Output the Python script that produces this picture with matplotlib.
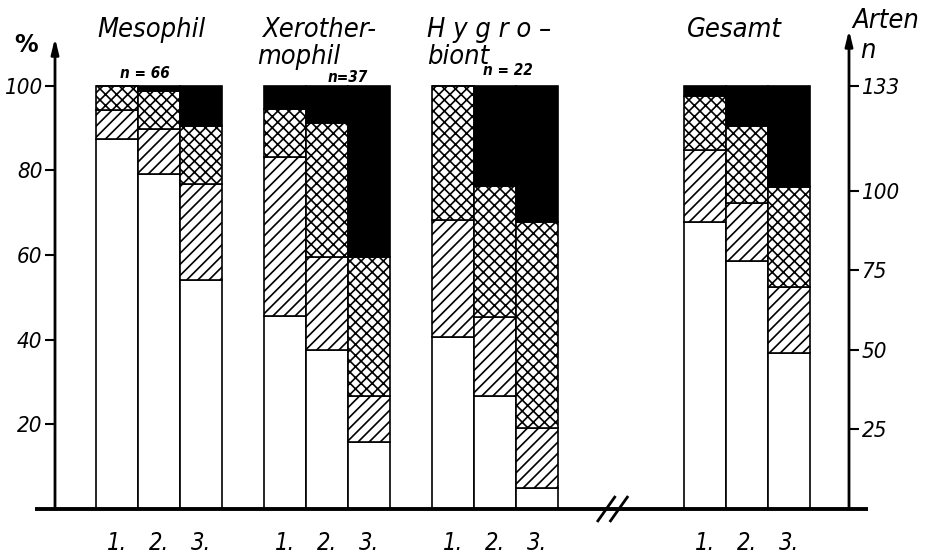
import numpy as np
import matplotlib
matplotlib.use("Agg")
from matplotlib import pyplot as plt

# data (percent of species per bar, bottom to top)
groups = ["Mesophil", "Xerothermophil", "Hygrobiont", "Gesamt"]
n_labels = ["n = 66", "n=37", "n = 22", ""]
bar_labels = ["1.", "2.", "3."]
white = [[87.5, 79.2, 54.0], [45.6, 37.6, 15.8], [40.7, 26.7, 5.0], [67.9, 58.7, 36.8]]
hatched = [[6.7, 10.6, 22.8], [37.5, 22.0, 10.9], [27.5, 18.6, 14.2], [17.0, 13.6, 15.6]]
crossed = [[5.8, 9.0, 13.6], [11.4, 31.6, 32.9], [31.8, 31.1, 48.7], [12.6, 18.1, 23.8]]
black = [[0.0, 1.2, 9.6], [5.5, 8.8, 40.4], [0.0, 23.6, 32.1], [2.5, 9.6, 23.8]]
pct_ticks = [20, 40, 60, 80, 100]
n_ticks = [25, 50, 75, 100, 133]
n_total = 133

group_start = [0, 4, 8, 14]

plt.rcParams["hatch.linewidth"] = 1.2
FONT = dict(family="DejaVu Sans", style="italic", stretch="condensed")

W, H = 927, 555
fig = plt.figure(figsize=(W / 100, H / 100), dpi=100)
ax = fig.add_axes([55 / W, 46 / H, 794 / W, 471 / H])
xmin, xmax = -1.48, 17.43
ymax = 111.3
ax.set_xlim(xmin, xmax)
ax.set_ylim(0, ymax)
for s in ax.spines.values():
    s.set_visible(False)

styles = [dict(facecolor="white", hatch=None),
          dict(facecolor="white", hatch="///"),
          dict(facecolor="white", hatch="xxx"),
          dict(facecolor="black", hatch=None)]

for g, x0 in enumerate(group_start):
    xs = np.arange(3) + x0
    bottom = np.zeros(3)
    for seg, st in zip([white[g], hatched[g], crossed[g], black[g]], styles):
        vals = np.array(seg)
        ax.bar(xs, vals, width=1.0, bottom=bottom, edgecolor="black",
               linewidth=1.2, **st)
        bottom += vals
    for x, lab in zip(xs, bar_labels):
        ax.text(x, -8.0, lab, ha="center", va="center", fontsize=17,
                clip_on=False, **FONT)

# left axis
ax.set_xticks([])
ax.set_yticks(pct_ticks)
ax.set_yticklabels([str(t) for t in pct_ticks], fontsize=16, **FONT)
ax.tick_params(axis="y", direction="out", length=7, width=1.5, pad=2)
ax.annotate("", xy=(xmin, ymax), xytext=(xmin, 0),
            arrowprops=dict(arrowstyle="-|>,head_length=0.9,head_width=0.22",
                            lw=2, color="black", shrinkA=0, shrinkB=0),
            annotation_clip=False)

# right axis in number of species
ax2 = ax.twinx()
ax2.set_ylim(0, ymax * n_total / 100)
for s in ax2.spines.values():
    s.set_visible(False)
ax2.set_yticks(n_ticks)
ax2.set_yticklabels([str(t) for t in n_ticks], fontsize=16, **FONT)
ax2.tick_params(axis="y", direction="out", length=7, width=1.5, pad=2)
ax.annotate("", xy=(xmax, 113.2), xytext=(xmax, 0),
            arrowprops=dict(arrowstyle="-|>,head_length=0.9,head_width=0.22",
                            lw=2, color="black", shrinkA=0, shrinkB=0),
            annotation_clip=False)

# baseline with axis break
ax.plot([-1.95, 17.88], [0, 0], color="black", lw=2.8, clip_on=False,
        solid_capstyle="butt", zorder=5)
ax.plot([11.45, 11.85], [-2.8, 2.8], color="black", lw=2, clip_on=False, zorder=6)
ax.plot([11.75, 12.15], [-2.8, 2.8], color="black", lw=2, clip_on=False, zorder=6)


def ftext(x, y, s, **kw):
    fig.text(x / W, 1 - y / H, s, **kw)


TITLE = dict(fontsize=19.5, va="baseline", ha="left", **FONT)
ftext(97, 37, "Mesophil", **TITLE)
ftext(262, 37, "Xerother-", **TITLE)
ftext(257, 64, "mophil", **TITLE)
ftext(427, 37, "H y g r o –", **TITLE)
ftext(427, 64, "biont", **TITLE)
ftext(687, 37, "Gesamt", **TITLE)
ftext(852, 28, "Arten", **TITLE)
ftext(860, 58, "n", **TITLE)
ftext(14, 52, "%", fontsize=17, weight="bold", va="baseline", ha="left")

SUB = dict(fontsize=11, va="baseline", ha="left", weight="bold", **FONT)
ftext(120, 78, n_labels[0], **SUB)
ftext(328, 82, n_labels[1], **SUB)
ftext(483, 75, n_labels[2], **SUB)

fig.savefig("out.png", dpi=100)
